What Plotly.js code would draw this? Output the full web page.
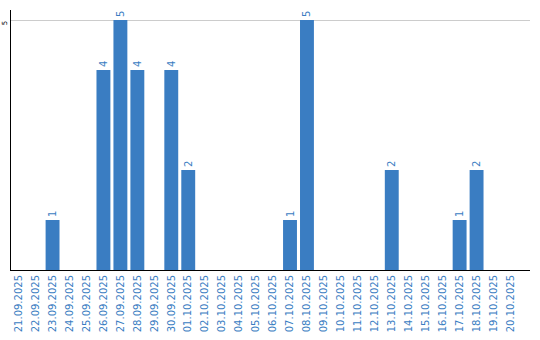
<!DOCTYPE html>
<html>
<head>
<meta charset="utf-8">
<script src="https://cdn.plot.ly/plotly-3.0.1.min.js"></script>
<style>html,body{margin:0;padding:0;background:#fff;}#chart{width:540px;height:340px;}</style>
</head>
<body>
<div id="chart"></div>
<script>
const dates = ["21.09.2025","22.09.2025","23.09.2025","24.09.2025","25.09.2025","26.09.2025","27.09.2025","28.09.2025","29.09.2025","30.09.2025","01.10.2025","02.10.2025","03.10.2025","04.10.2025","05.10.2025","06.10.2025","07.10.2025","08.10.2025","09.10.2025","10.10.2025","11.10.2025","12.10.2025","13.10.2025","14.10.2025","15.10.2025","16.10.2025","17.10.2025","18.10.2025","19.10.2025","20.10.2025"];
const counts = [0,0,1,0,0,4,5,4,0,4,2,0,0,0,0,0,1,5,0,0,0,0,2,0,0,0,1,2,0,0];
const labels = counts.map(v => v > 0 ? String(v) : "");
const yTicks = [5];

const blue = "#3a7dc2";
Plotly.newPlot("chart", [{
  type: "bar",
  x: dates,
  y: counts,
  text: labels,
  textposition: "outside",
  textangle: -90,
  cliponaxis: false,
  textfont: {family: "DejaVu Sans", size: 10, color: blue},
  marker: {color: blue},
  hoverinfo: "none"
}], {
  width: 540, height: 340,
  margin: {l: 10.5, r: 9.5, t: 10, b: 70, pad: 0},
  paper_bgcolor: "#fff", plot_bgcolor: "#fff",
  bargap: 0.18,
  showlegend: false,
  font: {family: "DejaVu Sans"},
  xaxis: {
    type: "category",
    range: [-0.45, 30.15],
    tickangle: -90,
    tickfont: {family: "DejaVu Sans", size: 10, color: blue},
    showline: true, linecolor: "#000", linewidth: 1,
    showgrid: false, ticks: "", fixedrange: true
  },
  yaxis: {
    range: [0, 5.2],
    tickvals: yTicks,
    ticktext: yTicks.map(String),
    tickangle: -90,
    ticklabelstandoff: 0,
    ticklabelshift: 4,
    tickfont: {family: "DejaVu Sans", size: 7, color: "#000"},
    showline: true, linecolor: "#000", linewidth: 1,
    showgrid: true, gridcolor: "#cccccc", gridwidth: 1,
    zeroline: false, ticks: "", fixedrange: true
  }
}, {displayModeBar: false, staticPlot: true});
</script>
</body>
</html>
